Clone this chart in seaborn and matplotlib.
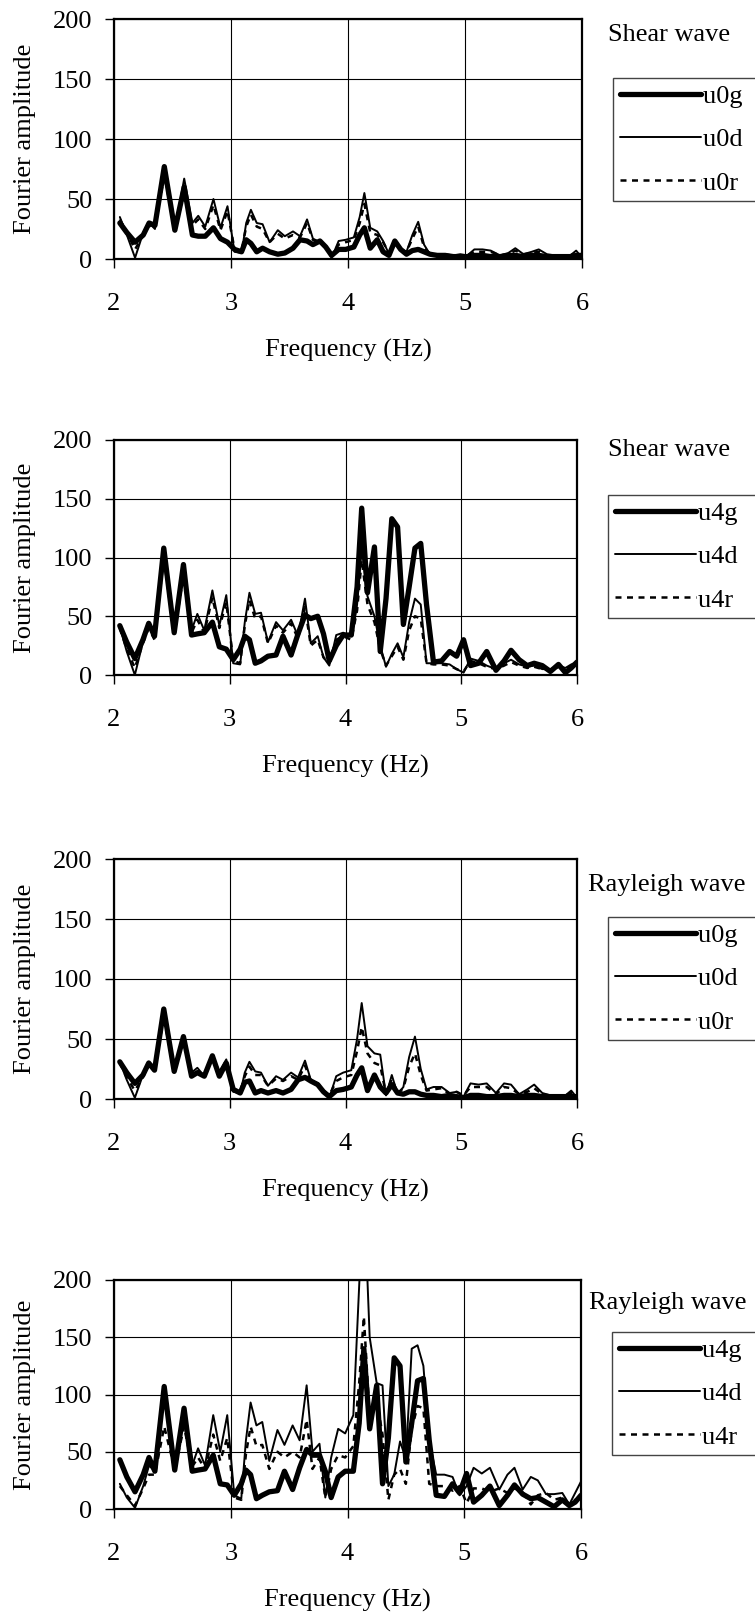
import matplotlib
matplotlib.use("Agg")
import matplotlib.pyplot as plt
import seaborn as sns

# frequency points (Hz), shared by all curves
freq = [2.05, 2.11, 2.18, 2.25, 2.30, 2.35, 2.43, 2.52, 2.60, 2.67,
        2.72, 2.78, 2.85, 2.91, 2.97, 3.03, 3.09, 3.13, 3.17, 3.22,
        3.27, 3.33, 3.40, 3.46, 3.53, 3.59, 3.65, 3.70, 3.76, 3.81,
        3.86, 3.92, 3.98, 4.05, 4.10, 4.14, 4.19, 4.25, 4.30, 4.35,
        4.40, 4.45, 4.50, 4.55, 4.60, 4.65, 4.70, 4.76, 4.83, 4.90,
        4.96, 5.02, 5.08, 5.15, 5.22, 5.30, 5.37, 5.43, 5.50, 5.57,
        5.63, 5.70, 5.77, 5.84, 5.90, 5.95, 6.00]

# panel 1 - shear wave, u0
s_u0g = [30, 22, 14, 20, 30, 28, 77, 24, 60, 20,
         19, 19, 26, 17, 14, 8, 6, 16, 13, 6,
         9, 6, 4, 5, 9, 16, 15, 12, 15, 10,
         3, 8, 8, 10, 20, 26, 9, 16, 6, 3,
         15, 8, 4, 7, 8, 6, 4, 3, 3, 2,
         2, 2, 3, 3, 2, 2, 3, 3, 2, 3,
         3, 2, 2, 2, 2, 3, 3]
s_u0d = [35, 20, 1, 22, 30, 25, 77, 24, 67, 30,
         36, 27, 50, 26, 44, 6, 5, 30, 41, 30,
         29, 14, 24, 19, 23, 19, 33, 17, 14, 10,
         1, 15, 16, 18, 35, 55, 26, 23, 15, 4,
         15, 8, 6, 20, 31, 12, 4, 4, 4, 3,
         4, 3, 8, 8, 7, 3, 5, 9, 4, 6,
         8, 4, 3, 3, 3, 7, 1]
s_u0r = [33, 22, 8, 20, 28, 26, 70, 24, 55, 28,
         33, 25, 45, 24, 40, 8, 7, 27, 37, 27,
         25, 14, 21, 17, 20, 18, 30, 16, 14, 10,
         3, 12, 14, 16, 30, 46, 22, 20, 14, 5,
         14, 8, 6, 17, 27, 10, 4, 4, 3, 3,
         3, 3, 6, 6, 6, 3, 4, 7, 4, 5,
         6, 3, 3, 3, 3, 5, 2]

# panel 2 - shear wave, u4
s_u4g = [42, 28, 14, 30, 44, 33, 108, 36, 94, 34,
         35, 36, 45, 24, 22, 13, 22, 33, 30, 10,
         12, 16, 17, 33, 17, 35, 51, 48, 50, 35,
         12, 25, 34, 34, 75, 142, 70, 109, 20, 65,
         133, 126, 43, 75, 108, 112, 60, 11, 12, 20,
         16, 30, 8, 10, 20, 4, 12, 21, 13, 8,
         10, 8, 3, 9, 2, 6, 11]
s_u4d = [41, 20, 0, 28, 44, 32, 106, 36, 92, 38,
         52, 38, 72, 42, 68, 10, 9, 45, 70, 52,
         53, 28, 45, 38, 47, 33, 65, 27, 33, 15,
         8, 34, 36, 33, 60, 108, 67, 50, 25, 7,
         18, 27, 15, 45, 65, 60, 10, 10, 10, 9,
         5, 2, 14, 12, 8, 5, 10, 13, 9, 7,
         8, 5, 5, 8, 6, 9, 11]
s_u4r = [40, 22, 6, 27, 40, 30, 100, 34, 85, 36,
         47, 36, 66, 40, 62, 12, 10, 42, 64, 48,
         50, 27, 42, 36, 44, 31, 58, 25, 30, 15,
         10, 30, 33, 30, 55, 98, 60, 45, 22, 8,
         16, 24, 13, 38, 50, 48, 10, 9, 9, 8,
         5, 3, 12, 10, 7, 5, 8, 11, 8, 6,
         7, 5, 4, 7, 5, 8, 10]

# panel 3 - rayleigh wave, u0
r_u0g = [31, 22, 13, 20, 30, 24, 75, 23, 52, 19,
         22, 19, 36, 19, 30, 8, 5, 14, 15, 5,
         7, 5, 7, 5, 8, 16, 18, 15, 12, 6,
         2, 7, 8, 10, 20, 26, 7, 20, 10, 5,
         12, 5, 4, 6, 6, 4, 3, 3, 2, 3,
         2, 1, 3, 3, 2, 2, 3, 3, 2, 3,
         3, 2, 2, 2, 2, 2, 2]
r_u0d = [31, 16, 1, 20, 31, 25, 74, 24, 52, 22,
         26, 19, 36, 23, 33, 6, 5, 22, 31, 23,
         22, 11, 19, 16, 22, 18, 32, 16, 13, 6,
         1, 19, 22, 24, 50, 80, 44, 38, 37, 3,
         20, 4, 10, 35, 52, 25, 8, 10, 10, 5,
         6, 2, 13, 12, 13, 5, 13, 12, 4, 8,
         12, 5, 3, 3, 3, 7, 1]
r_u0r = [30, 18, 7, 18, 29, 24, 68, 23, 49, 21,
         24, 19, 33, 22, 30, 7, 6, 19, 27, 20,
         20, 11, 17, 15, 19, 16, 28, 15, 13, 7,
         3, 15, 18, 20, 40, 60, 38, 30, 28, 4,
         17, 5, 9, 27, 38, 20, 7, 8, 9, 4,
         6, 3, 10, 10, 10, 4, 10, 9, 4, 6,
         9, 4, 3, 3, 3, 5, 2]

# panel 4 - rayleigh wave, u4
r_u4g = [43, 28, 15, 30, 45, 33, 107, 34, 88, 33,
         34, 35, 47, 22, 21, 12, 22, 34, 30, 9,
         12, 15, 16, 33, 17, 36, 52, 47, 47, 33,
         10, 28, 33, 33, 75, 140, 70, 108, 22, 62,
         132, 125, 41, 75, 112, 114, 60, 12, 11, 22,
         14, 31, 6, 12, 20, 3, 12, 21, 13, 9,
         10, 6, 2, 8, 3, 6, 12]
r_u4d = [22, 10, 1, 20, 38, 33, 105, 36, 88, 38,
         53, 38, 82, 50, 82, 12, 9, 60, 93, 73,
         76, 42, 69, 56, 73, 60, 108, 50, 57, 10,
         45, 70, 66, 82, 195, 280, 150, 110, 108, 20,
         30, 59, 44, 140, 143, 125, 60, 30, 30, 28,
         12, 20, 36, 31, 36, 17, 30, 36, 17, 28,
         25, 13, 13, 14, 4, 14, 24]
r_u4r = [20, 12, 3, 18, 30, 30, 72, 35, 72, 37,
         45, 35, 65, 42, 62, 10, 8, 48, 72, 55,
         56, 35, 50, 45, 50, 45, 78, 35, 45, 10,
         35, 47, 45, 55, 110, 168, 80, 95, 65, 8,
         30, 35, 22, 70, 90, 88, 22, 20, 20, 16,
         20, 5, 18, 18, 15, 18, 14, 18, 15, 4,
         12, 14, 8, 10, 4, 8, 10]

panel_titles = ["Shear wave", "Shear wave", "Rayleigh wave", "Rayleigh wave"]
panel_series = [
    [("u0g", s_u0g), ("u0d", s_u0d), ("u0r", s_u0r)],
    [("u4g", s_u4g), ("u4d", s_u4d), ("u4r", s_u4r)],
    [("u0g", r_u0g), ("u0d", r_u0d), ("u0r", r_u0r)],
    [("u4g", r_u4g), ("u4d", r_u4d), ("u4r", r_u4r)],
]

W, H = 755, 1613
# axes boxes in pixels: left, top, right, bottom
boxes = [(114, 19, 582, 259), (114, 440, 577, 675),
         (114, 859, 577, 1099), (114, 1280, 581, 1509)]
title_pos = [(608, 35), (608, 450), (588, 885), (589, 1303)]
legend_pos = [(613, 78), (608, 495), (608, 917), (612, 1332)]

sns.set_theme(style="white")
plt.rcParams["font.family"] = ["Liberation Serif", "DejaVu Serif"]
plt.rcParams["text.color"] = "black"
plt.rcParams["axes.labelcolor"] = "black"
plt.rcParams["xtick.color"] = "black"
plt.rcParams["ytick.color"] = "black"

FS = 19
line_kw = [dict(linewidth=3.8, linestyle="-"),
           dict(linewidth=1.4, linestyle="-"),
           dict(linewidth=1.8, linestyle=(0, (2.4, 2.2)))]

fig = plt.figure(figsize=(W / 100, H / 100), dpi=100)

for i in range(4):
    l, t, r, b = boxes[i]
    ax = fig.add_axes([l / W, 1 - b / H, (r - l) / W, (b - t) / H])
    for (name, vals), kw in zip(panel_series[i], line_kw):
        # trailing space widens the legend box towards the page edge
        sns.lineplot(x=freq, y=vals, ax=ax, color="black", label=name + "  ",
                     errorbar=None, sort=False, **kw)

    ax.set_xlim(2, 6)
    ax.set_ylim(0, 200)
    ax.set_xticks([2, 3, 4, 5, 6])
    ax.set_yticks([0, 50, 100, 150, 200])
    ax.grid(True, color="black", linewidth=0.8)
    ax.set_axisbelow(True)
    for sp in ax.spines.values():
        sp.set_color("black")
        sp.set_linewidth(1.6)
    ax.tick_params(axis="both", direction="out", length=6.5, width=1,
                   labelsize=FS, left=True, bottom=True)
    ax.tick_params(axis="x", pad=18)
    ax.tick_params(axis="y", pad=9)

    ax.set_xlabel("Frequency (Hz)", fontsize=FS)
    ax.set_ylabel("Fourier amplitude", fontsize=FS)
    ax.xaxis.set_label_coords(0.5, -80 / (b - t))
    ax.yaxis.set_label_coords(-(114 - 36) / (r - l), 0.5)

    fig.text(title_pos[i][0] / W, 1 - title_pos[i][1] / H, panel_titles[i],
             fontsize=FS, ha="left", va="center")

    lx, ly = legend_pos[i]
    leg = ax.legend(loc="upper left", bbox_to_anchor=(lx / W, 1 - ly / H),
                    bbox_transform=fig.transFigure, fontsize=FS,
                    frameon=True, fancybox=False, framealpha=1,
                    borderaxespad=0, borderpad=0.25, labelspacing=0.75,
                    handlelength=3.1, handletextpad=0.05)
    leg.get_frame().set_edgecolor("#444444")
    leg.get_frame().set_linewidth(1.0)

fig.savefig("out.png", dpi=100)
